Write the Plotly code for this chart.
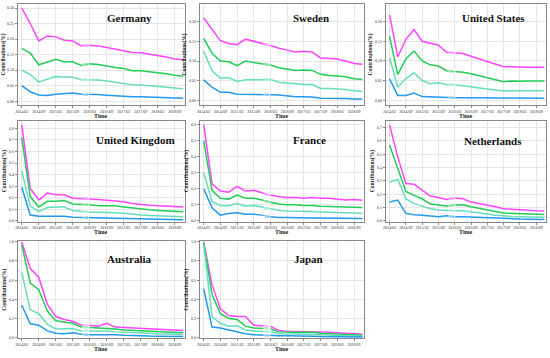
import plotly.graph_objects as go

quarters = ["2014/03","2014/06","2014/09","2014/12","2015/03","2015/06","2015/09","2015/12",
            "2016/03","2016/06","2016/09","2016/12","2017/03","2017/06","2017/09","2017/12",
            "2018/03","2018/06","2018/09","2018/12"]
tick_labels = quarters[::2]
series_names = ["95", "90", "80", "50"]
colors = ["#ff44ff", "#22cc55", "#66ddbb", "#2299ee"]

countries = ["Germany", "Sweden", "United States", "United Kingdom", "France",
             "Netherlands", "Australia", "Japan"]

germany_95 = [0.30,0.25,0.194,0.21,0.207,0.196,0.194,0.178,0.18,0.178,0.173,0.168,0.163,0.157,0.156,0.152,0.148,0.142,0.136,0.133]
germany_90 = [0.17,0.155,0.117,0.127,0.135,0.127,0.127,0.115,0.12,0.118,0.112,0.108,0.105,0.098,0.098,0.095,0.092,0.088,0.083,0.080]
germany_80 = [0.10,0.085,0.062,0.07,0.079,0.078,0.077,0.069,0.069,0.068,0.065,0.061,0.058,0.053,0.052,0.050,0.048,0.046,0.043,0.040]
germany_50 = [0.05,0.03,0.02,0.018,0.022,0.024,0.026,0.022,0.022,0.021,0.019,0.017,0.016,0.014,0.014,0.013,0.012,0.011,0.010,0.009]

sweden_95 = [0.21,0.18,0.152,0.145,0.142,0.156,0.15,0.145,0.14,0.133,0.128,0.123,0.125,0.123,0.108,0.107,0.105,0.1,0.094,0.092]
sweden_90 = [0.158,0.12,0.1,0.098,0.088,0.1,0.096,0.093,0.09,0.083,0.08,0.076,0.077,0.076,0.066,0.063,0.062,0.06,0.055,0.053]
sweden_80 = [0.125,0.075,0.056,0.058,0.048,0.052,0.052,0.052,0.053,0.046,0.044,0.041,0.04,0.04,0.03,0.03,0.029,0.027,0.024,0.022]
sweden_50 = [0.052,0.033,0.02,0.02,0.015,0.015,0.015,0.015,0.014,0.013,0.011,0.009,0.009,0.008,0.005,0.005,0.004,0.004,0.003,0.003]

us_95 = [0.217,0.11,0.155,0.18,0.15,0.145,0.14,0.122,0.121,0.119,0.112,0.105,0.1,0.093,0.085,0.085,0.084,0.084,0.084,0.084]
us_90 = [0.163,0.065,0.105,0.125,0.1,0.09,0.087,0.075,0.073,0.071,0.067,0.062,0.057,0.052,0.047,0.049,0.048,0.049,0.049,0.049]
us_80 = [0.108,0.033,0.055,0.07,0.05,0.042,0.044,0.04,0.039,0.037,0.034,0.031,0.028,0.025,0.023,0.024,0.024,0.024,0.024,0.024]
us_50 = [0.054,0.012,0.012,0.018,0.009,0.008,0.008,0.007,0.006,0.006,0.006,0.006,0.006,0.005,0.005,0.005,0.005,0.005,0.005,0.005]

uk_95 = [0.83,0.28,0.18,0.24,0.225,0.225,0.195,0.195,0.19,0.185,0.18,0.175,0.165,0.15,0.14,0.135,0.13,0.125,0.12,0.12]
uk_90 = [0.72,0.21,0.12,0.17,0.17,0.175,0.145,0.145,0.14,0.13,0.13,0.13,0.12,0.11,0.1,0.095,0.09,0.085,0.08,0.078]
uk_80 = [0.43,0.13,0.08,0.115,0.12,0.12,0.09,0.08,0.075,0.075,0.075,0.07,0.065,0.055,0.05,0.047,0.044,0.04,0.038,0.036]
uk_50 = [0.29,0.05,0.04,0.04,0.04,0.04,0.03,0.03,0.028,0.027,0.025,0.022,0.02,0.017,0.015,0.013,0.012,0.011,0.01,0.01]

france_95 = [0.6,0.23,0.185,0.178,0.215,0.185,0.19,0.175,0.16,0.15,0.145,0.145,0.14,0.145,0.14,0.14,0.135,0.13,0.132,0.128]
france_90 = [0.5,0.19,0.14,0.135,0.16,0.14,0.14,0.13,0.115,0.105,0.1,0.1,0.095,0.095,0.09,0.09,0.087,0.085,0.085,0.083]
france_80 = [0.3,0.12,0.095,0.093,0.108,0.09,0.095,0.085,0.072,0.065,0.06,0.06,0.058,0.057,0.055,0.054,0.052,0.05,0.048,0.047]
france_50 = [0.2,0.08,0.035,0.045,0.05,0.04,0.04,0.035,0.025,0.02,0.02,0.018,0.018,0.017,0.017,0.016,0.015,0.015,0.014,0.014]

nl_95 = [0.72,0.48,0.28,0.275,0.23,0.185,0.175,0.16,0.17,0.165,0.14,0.13,0.12,0.105,0.09,0.085,0.08,0.078,0.075,0.073]
nl_90 = [0.57,0.4,0.22,0.19,0.165,0.125,0.12,0.11,0.118,0.12,0.105,0.095,0.085,0.07,0.058,0.055,0.052,0.05,0.048,0.046]
nl_80 = [0.29,0.31,0.165,0.13,0.11,0.09,0.08,0.075,0.075,0.075,0.065,0.06,0.05,0.042,0.035,0.032,0.03,0.028,0.027,0.026]
nl_50 = [0.14,0.155,0.055,0.045,0.042,0.035,0.03,0.038,0.03,0.03,0.027,0.025,0.022,0.02,0.017,0.015,0.013,0.012,0.011,0.01]

au_95 = [1.0,0.72,0.63,0.35,0.22,0.19,0.17,0.13,0.13,0.12,0.15,0.11,0.105,0.1,0.095,0.09,0.085,0.08,0.078,0.075]
au_90 = [0.97,0.57,0.5,0.28,0.175,0.16,0.15,0.11,0.105,0.1,0.1,0.09,0.08,0.075,0.07,0.065,0.06,0.058,0.055,0.052]
au_80 = [0.68,0.29,0.25,0.14,0.09,0.095,0.095,0.07,0.07,0.07,0.07,0.06,0.055,0.05,0.045,0.04,0.04,0.038,0.035,0.033]
au_50 = [0.34,0.145,0.13,0.07,0.045,0.04,0.05,0.035,0.03,0.03,0.035,0.03,0.025,0.02,0.018,0.016,0.015,0.014,0.013,0.012]

jp_95 = [1.0,0.55,0.3,0.23,0.22,0.22,0.13,0.12,0.115,0.075,0.065,0.065,0.065,0.065,0.06,0.055,0.05,0.045,0.04,0.035]
jp_90 = [0.99,0.45,0.25,0.2,0.19,0.12,0.1,0.095,0.09,0.06,0.055,0.055,0.055,0.055,0.045,0.04,0.035,0.032,0.03,0.025]
jp_80 = [0.98,0.22,0.15,0.12,0.125,0.08,0.07,0.065,0.06,0.04,0.04,0.04,0.04,0.035,0.03,0.025,0.022,0.02,0.018,0.015]
jp_50 = [0.51,0.11,0.1,0.08,0.065,0.04,0.03,0.025,0.025,0.02,0.02,0.02,0.018,0.015,0.012,0.01,0.01,0.008,0.008,0.007]

data = [
    [germany_95, germany_90, germany_80, germany_50],
    [sweden_95, sweden_90, sweden_80, sweden_50],
    [us_95, us_90, us_80, us_50],
    [uk_95, uk_90, uk_80, uk_50],
    [france_95, france_90, france_80, france_50],
    [nl_95, nl_90, nl_80, nl_50],
    [au_95, au_90, au_80, au_50],
    [jp_95, jp_90, jp_80, jp_50],
]

y_ranges = [[-0.012, 0.313], [-0.012, 0.246], [-0.012, 0.245], [-0.006, 0.867],
            [-0.005, 0.625], [-0.006, 0.752], [-0.006, 1.005], [-0.006, 1.005]]
y_dtick = [0.05, 0.05, 0.05, 0.1, 0.1, 0.1, 0.2, 0.2]
y_fmt = [".2f", ".2f", ".2f", ".1f", ".1f", ".1f", ".1f", ".1f"]

W, H = 550, 358
col_px = [(15, 183), (198, 363), (385, 546)]
row_px = [(2, 104), (120, 222), (242, 340)]
time_y_px = [115, 233, 351]
title_px = [(127, 16), (310, 16), (493, 16), (133, 140), (308, 140), (493, 141), (127, 260), (307, 260)]

SERIF = "Liberation Serif"
fig = go.Figure()
annotations = []
label_pos = 7.6

for i, country in enumerate(countries):
    r, c = divmod(i, 3)
    n = i + 1
    xa = "x" if n == 1 else f"x{n}"
    ya = "y" if n == 1 else f"y{n}"
    for k, name in enumerate(series_names):
        vals = data[i][k]
        fig.add_trace(go.Scatter(
            x=list(range(len(quarters))), y=vals, mode="lines",
            line=dict(color=colors[k], width=1.5), name=name,
            xaxis=xa, yaxis=ya, showlegend=False, hoverinfo="skip"))
        j = int(label_pos)
        t = label_pos - j
        yv = vals[j] * (1 - t) + vals[j + 1] * t
        annotations.append(dict(x=label_pos, y=yv, xref=xa, yref=ya, text=name,
                                showarrow=False, font=dict(family=SERIF, size=5, color=colors[k]),
                                bgcolor="rgba(255,255,255,0.6)", borderpad=0))
    x0, x1 = col_px[c]
    y0, y1 = row_px[r]
    axis_common = dict(showgrid=True, gridcolor="#e6e6e6", gridwidth=0.8,
                       showline=True, linecolor="#888", linewidth=1, mirror=True,
                       ticks="outside", ticklen=2, tickcolor="#888", zeroline=False,
                       tickfont=dict(family=SERIF, size=4, color="#333"))
    fig.layout[("xaxis" if n == 1 else f"xaxis{n}")] = dict(
        domain=[x0 / W, x1 / W], anchor=ya, range=[-0.45, 19.2],
        tickvals=list(range(0, len(quarters), 2)), ticktext=tick_labels,
        tickangle=0, **axis_common)
    fig.layout[("yaxis" if n == 1 else f"yaxis{n}")] = dict(
        domain=[1 - y1 / H, 1 - y0 / H], anchor=xa, range=y_ranges[i],
        dtick=y_dtick[i], tick0=0, tickformat=y_fmt[i],
        title=dict(text="<b>Contributions(%)</b>", font=dict(family=SERIF, size=5.5, color="#222"), standoff=2),
        **axis_common)
    annotations.append(dict(x=(x0 + x1) / 2 / W, y=1 - time_y_px[r] / H, xref="paper", yref="paper",
                            text="<b>Time</b>", showarrow=False,
                            font=dict(family=SERIF, size=6, color="#222"),
                            xanchor="center", yanchor="middle"))
    tx, ty = title_px[i]
    annotations.append(dict(x=tx / W, y=1 - ty / H, xref="paper", yref="paper",
                            text=f"<b>{country}</b>", showarrow=False,
                            font=dict(family=SERIF, size=11, color="#111"),
                            xanchor="center", yanchor="middle"))

fig.update_layout(width=W, height=H, margin=dict(l=0, r=0, t=0, b=0),
                  plot_bgcolor="white", paper_bgcolor="white",
                  annotations=annotations)
fig.write_html("out.html", config={"displayModeBar": False},
               post_script="document.body.style.margin='0';document.body.style.overflow='hidden';")
